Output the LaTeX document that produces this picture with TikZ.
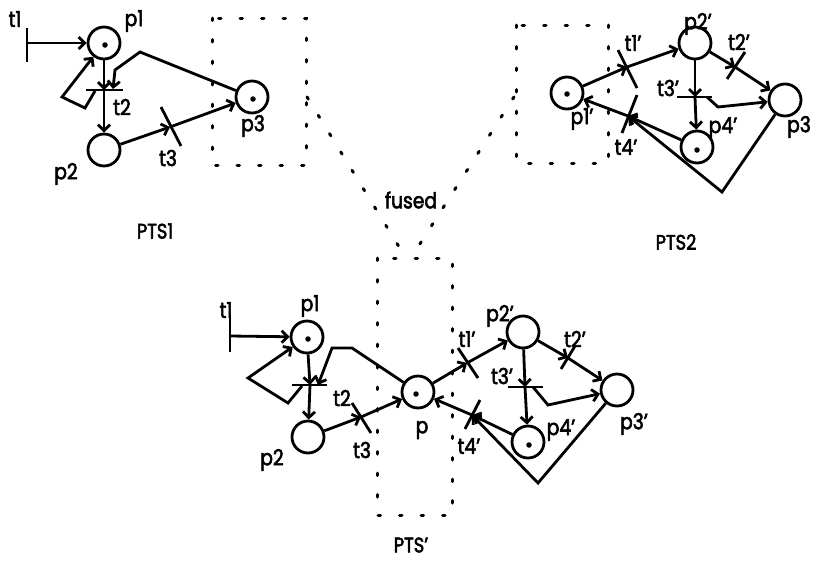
\documentclass[tikz,border=0pt]{standalone}
\usepackage{fontspec}
\setmainfont[FakeStretch=0.85,FakeBold=2.5]{Poppins}
\usetikzlibrary{arrows.meta,calc}
\begin{document}
\begin{tikzpicture}[x=1pt,y=-1pt,
  every node/.style={font=\fontsize{22}{22}\selectfont, inner sep=0pt},
  place/.style={circle,draw,line width=2.8pt,minimum size=32pt,inner sep=0pt},
  arc/.style={line width=2.8pt,-{Straight Barb[length=6pt,width=12pt]}},
  bar/.style={line width=2.8pt},
  dotline/.style={line width=3pt, dash pattern=on 2.5pt off 19pt, line cap=round},
  tok/.style={circle,fill,inner sep=0pt,minimum size=5.5pt},
  big/.style={font=\fontsize{21}{21}\selectfont}
]
\useasboundingbox (0,0) rectangle (817,563);

% ================= PTS1 =================
\draw[dotline] (212,18) rectangle (306,165);
\node[place] (ap1) at (104,43) {};
\node[tok] (ap1tok) at (105,45) {};
\node[place] (ap2) at (104,150) {};
\node[place] (ap3) at (252,97) {};
\node[tok] (ap3tok) at (253,99) {};
\coordinate (at1) at (27,43);
\coordinate (at2) at (104,90);
\coordinate (at2r) at (113,89);
\coordinate (at2l) at (95,91);
\coordinate (at3) at (170,127);
\draw[bar] (27,28) -- (27,62);
\draw[bar] (86,90) -- (123,90);
\draw[bar] (161,107) -- (181,146);
\draw[arc] (at1) -- (ap1);
\draw[arc] (ap1) -- (at2);
\draw[arc] (at2) -- (ap2);
\draw[arc] (at2l) -- (85,108) -- (62,97) -- (ap1);
\draw[arc] (ap3) -- (140,52) -- (115,70) -- (at2r);
\draw[arc] (ap2) -- (at3);
\draw[arc] (at3) -- (ap3);
\node (lat1) at (15,19) {t1};
\node (lap1) at (134,21) {p1};
\node (lat2) at (122,107) {t2};
\node (lap2) at (66,174) {p2};
\node (lat3) at (168,158) {t3};
\node (lap3) at (253,126) {p3};
\node[big] (lpts1) at (155,231) {PTS1};

% ================= PTS2 =================
\draw[dotline] (516,25) rectangle (608,163);
\node[place] (bp1) at (567,93) {};
\node[tok] (bp1tok) at (567,94) {};
\node[place] (bp2) at (695,43) {};
\node[place] (bp3) at (785,100) {};
\node[place] (bp4) at (697,147) {};
\node[tok] (bp4tok) at (697,150) {};
\coordinate (bt1) at (627,67);
\coordinate (bt2) at (735,67);
\coordinate (bt3) at (695,97);
\coordinate (bt3r) at (707,97);
\coordinate (bt4) at (628,116);
\draw[bar] (618,50) -- (637,88);
\draw[bar] (745,52) -- (727,79);
\draw[bar] (677,97) -- (712,97);
\draw[bar] (637,95) -- (622,133);
\draw[arc] (bp1) -- (bt1);
\draw[arc] (bt1) -- (bp2);
\draw[arc] (bp2) -- (bt2);
\draw[arc] (bt2) -- (bp3);
\draw[arc] (bp2) -- (bt3);
\draw[arc] (bt3) -- (bp4);
\draw[arc] (bt3r) -- (718,107) -- (bp3);
\draw[arc] (bp4) -- (bt4);
\draw[arc] (bt4) -- (bp1);
\draw[arc] (bp3) -- (722,192) -- (bt4);
\node (lbt1) at (633,43) {t1'};
\node (lbp2) at (698,24) {p2'};
\node (lbt2) at (739,42) {t2'};
\node (lbt3) at (668,88) {t3'};
\node (lbp1) at (582,119) {p1'};
\node (lbp4) at (723,128) {p4'};
\node (lbt4) at (626,147) {t4'};
\node (lbp3) at (799,127) {p3};
\node[big] (lpts2) at (676,242) {PTS2};

% ================= fusion =================
\node (lfused) at (411,200) {fused};
\draw[dotline] (307,97) -- (401,250);
\draw[dotline] (514,97) -- (416,250);

% ================= PTS' =================
\draw[dotline] (377,258) rectangle (452,515);
\node[place] (cp1) at (307,337) {};
\node[tok] (cp1tok) at (308,339) {};
\node[place] (cp2) at (308,437) {};
\node[place] (cp) at (418,392) {};
\node[tok] (cptok) at (416,394) {};
\node[place] (cp2b) at (523,332) {};
\node[place] (cp3b) at (617,390) {};
\node[place] (cp4b) at (528,442) {};
\node[tok] (cp4btok) at (529,445) {};
\coordinate (ct1) at (230,336);
\coordinate (ct2) at (310,385);
\coordinate (ct2r) at (318,385);
\coordinate (ct2l) at (302,386);
\coordinate (ct3) at (361,417);
\coordinate (ct1b) at (467,363);
\coordinate (ct2b) at (568,358);
\coordinate (ct3b) at (525,387);
\coordinate (ct3br) at (533,387);
\coordinate (ct4b) at (472,415);
\draw[bar] (230,315) -- (230,352);
\draw[bar] (292,385) -- (327,385);
\draw[bar] (352,403) -- (371,433);
\draw[bar] (458,348) -- (478,378);
\draw[bar] (575,346) -- (561,369);
\draw[bar] (508,387) -- (543,387);
\draw[bar] (480,400) -- (465,429);
\draw[arc] (ct1) -- (cp1);
\draw[arc] (cp1) -- (ct2);
\draw[arc] (ct2) -- (cp2);
\draw[arc] (ct2l) -- (288,403) -- (248,378) -- (cp1);
\draw[arc] (cp) -- (352,348) -- (332,348) -- (ct2r);
\draw[arc] (cp2) -- (ct3);
\draw[arc] (ct3) -- (cp);
\draw[arc] (cp) -- (ct1b);
\draw[arc] (ct1b) -- (cp2b);
\draw[arc] (cp2b) -- (ct2b);
\draw[arc] (ct2b) -- (cp3b);
\draw[arc] (cp2b) -- (ct3b);
\draw[arc] (ct3b) -- (cp4b);
\draw[arc] (ct3br) -- (548,405) -- (cp3b);
\draw[arc] (cp4b) -- (ct4b);
\draw[arc] (ct4b) -- (cp);
\draw[arc] (cp3b) -- (538,483) -- (ct4b);
\node (lct1) at (226,310) {t1};
\node (lcp1) at (310,306) {p1};
\node (lct2) at (342,398) {t2};
\node (lcp2) at (272,460) {p2};
\node (lct3) at (362,450) {t3};
\node (lcp) at (422,430) {p};
\node (lct1b) at (467,339) {t1'};
\node (lcp2b) at (500,316) {p2'};
\node (lct2b) at (575,339) {t2'};
\node (lct3b) at (502,376) {t3'};
\node (lcp3b) at (634,424) {p3'};
\node (lcp4b) at (561,430) {p4'};
\node (lct4b) at (469,446) {t4'};
\node[big] (lptsp) at (411,545) {PTS'};
\end{tikzpicture}
\end{document}
